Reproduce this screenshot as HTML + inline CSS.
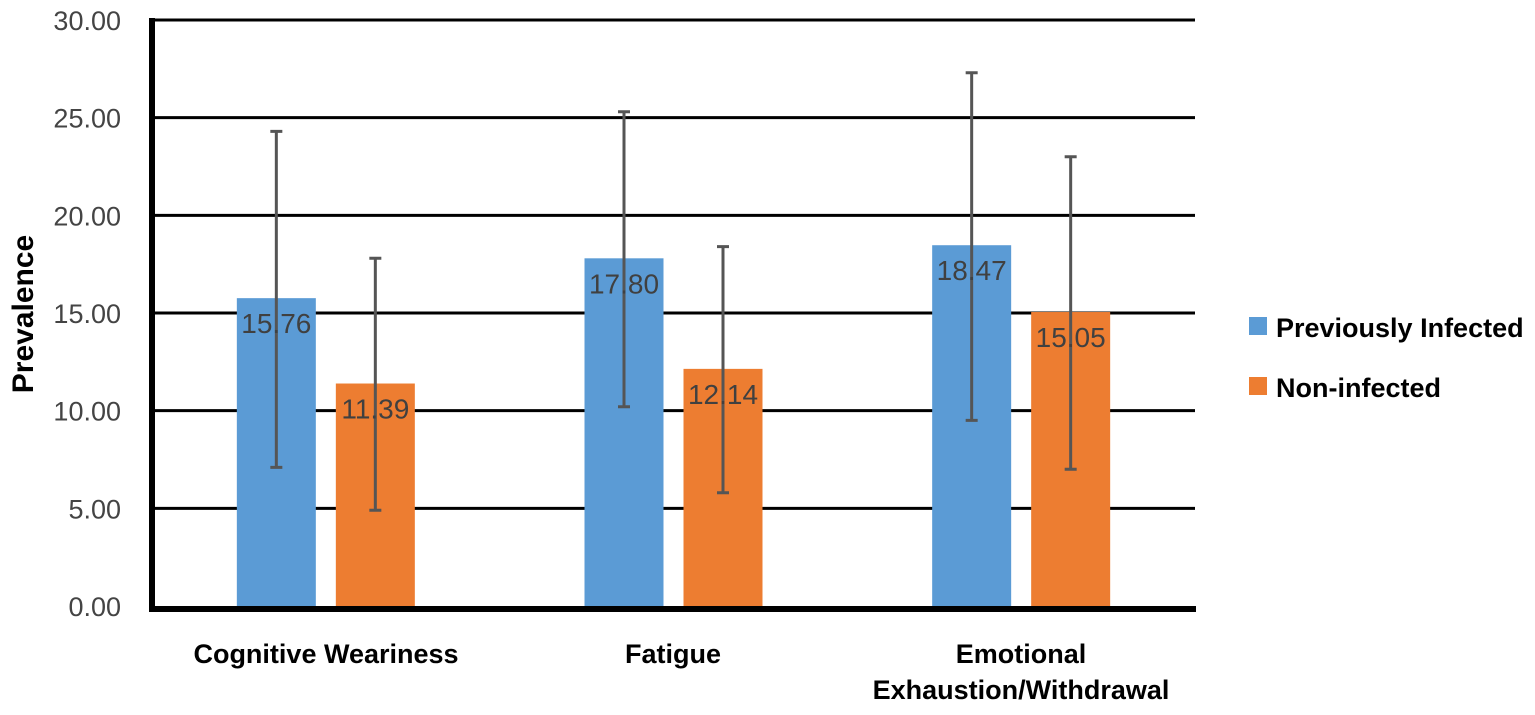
<!DOCTYPE html>
<html><head><meta charset="utf-8"><style>
body{margin:0;background:#fff;width:1535px;height:710px;overflow:hidden}
svg text{font-family:"Liberation Sans",sans-serif}
</style></head><body>
<svg id="chart" width="1535" height="710" xmlns="http://www.w3.org/2000/svg">
<g id="grid"></g>
<g id="bars"></g>
<g id="ticks"></g>
<line x1="152" y1="18" x2="152" y2="612" stroke="#000" stroke-width="6"/>
<line x1="149" y1="609" x2="1196" y2="609" stroke="#000" stroke-width="6"/>
<text transform="translate(33,314) rotate(-90)" text-anchor="middle" font-size="30" font-weight="bold">Prevalence</text>
<g id="xlabels" font-size="27" font-weight="bold" text-anchor="middle">
<text x="326" y="663">Cognitive Weariness</text>
<text x="673" y="663">Fatigue</text>
<text x="1021" y="663">Emotional</text>
<text x="1021" y="699">Exhaustion/Withdrawal</text>
</g>
<g>
<rect x="1249" y="317" width="18" height="18" fill="#5b9bd5"/>
<text x="1276" y="337" font-size="27" font-weight="bold">Previously Infected</text>
<rect x="1249" y="377" width="18" height="18" fill="#ed7d31"/>
<text x="1276" y="397" font-size="27" font-weight="bold">Non-infected</text>
</g>
</svg>
<script>
const categories=["Cognitive Weariness","Fatigue","Emotional Exhaustion/Withdrawal"];
const infected=[15.76,17.80,18.47];
const nonInfected=[11.39,12.14,15.05];
const infectedLow=[7.1,10.2,9.5];
const infectedHigh=[24.3,25.3,27.3];
const nonLow=[4.9,5.8,7.0];
const nonHigh=[17.8,18.4,23.0];
const yTicks=[0,5,10,15,20,25,30];
const NS="http://www.w3.org/2000/svg";
const y=v=>606-v*(586/30);
const x0=152,catW=(1195-152)/3;
function mk(tag,attrs,parent){const e=document.createElementNS(NS,tag);for(const k in attrs)e.setAttribute(k,attrs[k]);parent.appendChild(e);return e;}
const grid=document.getElementById('grid'),ticks=document.getElementById('ticks'),bars=document.getElementById('bars');
yTicks.forEach(t=>{
 if(t>0){const l=mk('line',{x1:152,x2:1195,y1:y(t),y2:y(t),stroke:'#000','stroke-width':3},grid);
 
 }
 const tx=mk('text',{x:121,y:y(t)+10,'text-anchor':'end','font-size':27,fill:'#444'},ticks);
 tx.textContent=t.toFixed(2);
 
 
});
categories.forEach((c,i)=>{
 const cx=x0+catW*(i+0.5);
 [[infected,infectedLow,infectedHigh,'#5b9bd5',cx-89,'previously-infected'],[nonInfected,nonLow,nonHigh,'#ed7d31',cx+10,'non-infected']].forEach(s=>{
  const v=s[0][i],bx=s[4];
  const r=mk('rect',{x:bx,y:y(v),width:79,height:606-y(v),fill:s[3]},bars);
  
  
  const mx=bx+39.5;
  const eb=mk('path',{d:`M${mx},${y(s[1][i])}V${y(s[2][i])}M${mx-6},${y(s[1][i])}H${mx+6}M${mx-6},${y(s[2][i])}H${mx+6}`,stroke:'#555','stroke-width':3,fill:'none'},bars);
  
  
  const t=mk('text',{x:mx,y:y(v)+35,'text-anchor':'middle','font-size':28,fill:'#404040'},bars);
  t.textContent=v.toFixed(2);
  
  
 });
});
</script>
</body></html>
